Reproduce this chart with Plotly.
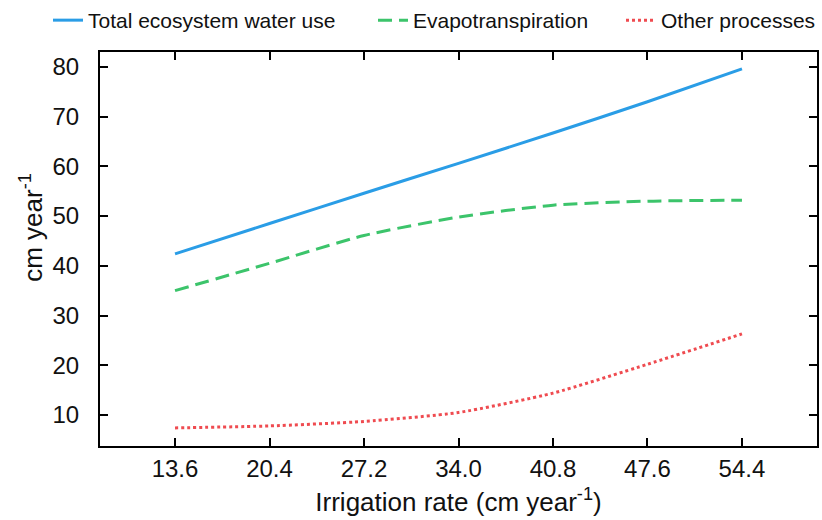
import plotly.graph_objects as go

# Irrigation rate (cm per year) on the x axis
irrigation = [13.6, 20.4, 27.2, 34.0, 40.8, 47.6, 54.4]

# Water use components (cm per year)
total_use = [42.4, 48.5, 54.6, 60.6, 66.7, 73.0, 79.6]
evapotranspiration = [35.0, 40.5, 46.1, 49.8, 52.2, 53.0, 53.2]
other_processes = [7.4, 7.8, 8.7, 10.5, 14.4, 20.2, 26.3]

x_ticks = [13.6, 20.4, 27.2, 34.0, 40.8, 47.6, 54.4]
x_tick_text = ["13.6", "20.4", "27.2", "34.0", "40.8", "47.6", "54.4"]
y_ticks = [10, 20, 30, 40, 50, 60, 70, 80]

FONT = "Liberation Sans, Arial, sans-serif"
TEXT = "#111111"

fig = go.Figure()
fig.add_trace(go.Scatter(
    x=irrigation, y=total_use, mode="lines", name="Total ecosystem water use",
    line=dict(color="#2a9de6", width=3, shape="spline", smoothing=0.6),
    legend="legend",
))
fig.add_trace(go.Scatter(
    x=irrigation, y=evapotranspiration, mode="lines", name="Evapotranspiration",
    line=dict(color="#3cc46b", width=3, dash="14px,7px", shape="spline", smoothing=0.6),
    legend="legend2",
))
fig.add_trace(go.Scatter(
    x=irrigation, y=other_processes, mode="lines", name="Other processes",
    line=dict(color="#ef4b50", width=3, dash="3px,3px", shape="spline", smoothing=0.6),
    legend="legend3",
))

axis_common = dict(
    showline=True, linecolor="black", linewidth=2, mirror="ticks",
    ticks="inside", ticklen=8, tickwidth=2, tickcolor="black",
    showgrid=False, zeroline=False,
    tickfont=dict(family=FONT, size=24, color=TEXT),
)

fig.update_xaxes(
    range=[8.2, 59.8], tickvals=x_ticks, ticktext=x_tick_text,
    title=dict(text="Irrigation rate (cm year<sup>-1</sup>)",
               font=dict(family=FONT, size=26, color=TEXT), standoff=12),
    ticklabelstandoff=0,
    **axis_common,
)
fig.update_yaxes(
    range=[3.76, 83.0], tickvals=y_ticks,
    ticklabelstandoff=14,
    **axis_common,
)

# y-axis title, placed slightly above the vertical centre of the plot
fig.add_annotation(
    text="cm year<sup>-1</sup>", textangle=-90,
    xref="paper", yref="paper", x=-0.095, y=0.556,
    xanchor="center", yanchor="middle", showarrow=False,
    font=dict(family=FONT, size=26, color=TEXT),
)

legend_common = dict(
    orientation="h", xref="container", yref="container",
    y=1.0, xanchor="left", yanchor="top",
    font=dict(family=FONT, size=21, color=TEXT),
    bgcolor="rgba(0,0,0,0)", itemwidth=30,
)

fig.update_layout(
    width=822, height=520,
    margin=dict(l=100, r=3, t=52, b=74),
    paper_bgcolor="white", plot_bgcolor="white",
    showlegend=True,
    legend=dict(x=48 / 822, **legend_common),
    legend2=dict(x=373 / 822, **legend_common),
    legend3=dict(x=621 / 822, **legend_common),
)

fig.write_html("out.html")
